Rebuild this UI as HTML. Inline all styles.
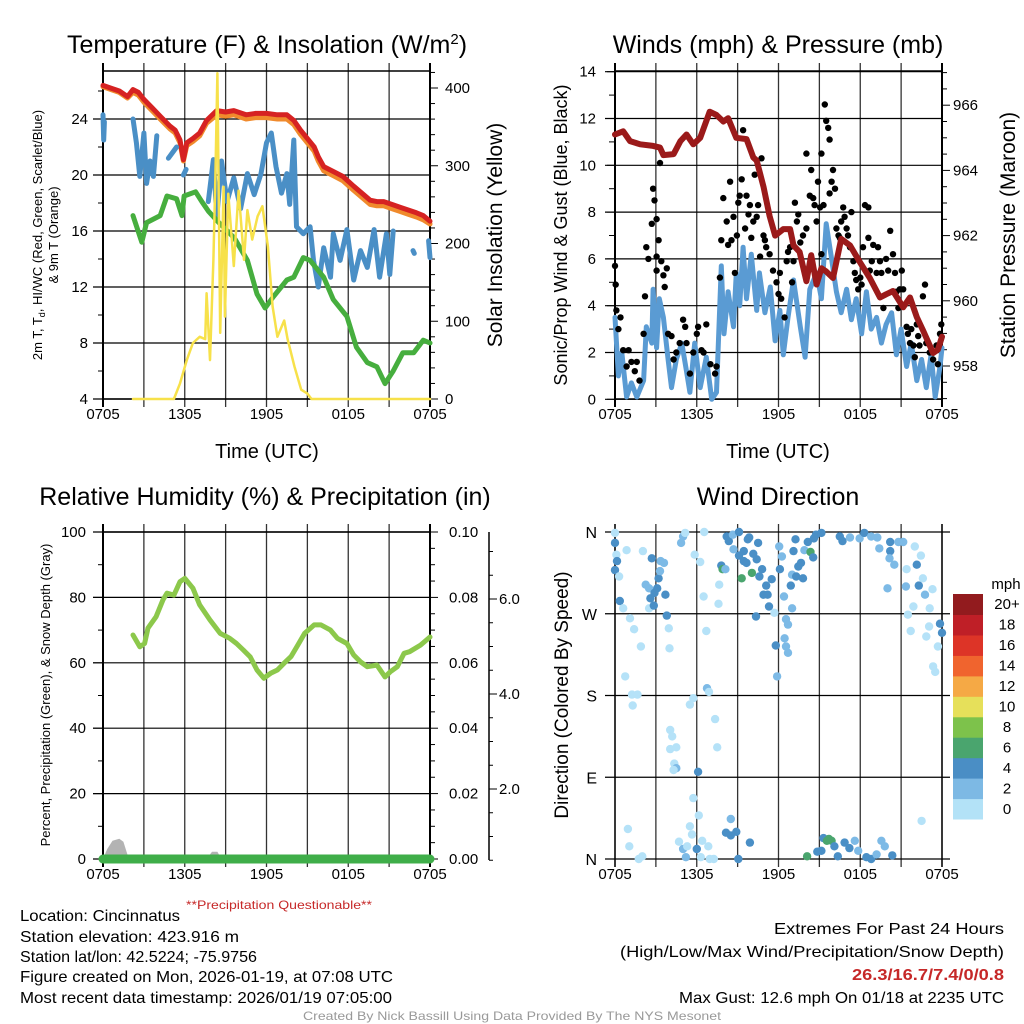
<!DOCTYPE html>
<html><head><meta charset="utf-8"><style>
html,body{margin:0;padding:0;background:#fff}
svg{display:block;font-family:"Liberation Sans",sans-serif}
</style></head><body>
<svg id="c" width="1024" height="1024" viewBox="0 0 1024 1024">
<rect width="1024" height="1024" fill="#fff"/>
<text x="267" y="53" font-size="25" text-anchor="middle">Temperature (F) &amp; Insolation (W/m<tspan dy="-9" font-size="15">2</tspan><tspan dy="9">)</tspan></text>
<text x="778" y="53" font-size="25" text-anchor="middle">Winds (mph) &amp; Pressure (mb)</text>
<text x="265" y="505" font-size="25" text-anchor="middle">Relative Humidity (%) &amp; Precipitation (in)</text>
<text x="778" y="505" font-size="25" text-anchor="middle">Wind Direction</text>

<text transform="translate(42,235) rotate(-90)" font-size="13" text-anchor="middle">2m T, T<tspan dy="3" font-size="9">d</tspan><tspan dy="-3">, HI/WC (Red, Green, Scarlet/Blue)</tspan></text>
<text transform="translate(58,235) rotate(-90)" font-size="13" text-anchor="middle">&amp; 9m T (Orange)</text>
<text transform="translate(502,235) rotate(-90)" font-size="21" text-anchor="middle">Solar Insolation (Yellow)</text>
<text transform="translate(567,235) rotate(-90)" font-size="18" text-anchor="middle">Sonic/Prop Wind &amp; Gust (Blue, Black)</text>
<text transform="translate(1015,235) rotate(-90)" font-size="21" text-anchor="middle">Station Pressure (Maroon)</text>
<text transform="translate(50,695) rotate(-90)" font-size="13" text-anchor="middle">Percent, Precipitation (Green), &amp; Snow Depth (Gray)</text>
<text transform="translate(568,695) rotate(-90)" font-size="19" text-anchor="middle">Direction (Colored By Speed)</text>
<text x="267" y="458" font-size="20" text-anchor="middle">Time (UTC)</text>
<text x="778" y="458" font-size="20" text-anchor="middle">Time (UTC)</text>

<text x="279" y="909" font-size="12" fill="#c62828" text-anchor="middle" textLength="186" lengthAdjust="spacingAndGlyphs">**Precipitation Questionable**</text>
<g font-size="16">
<text x="20" y="921" textLength="160" lengthAdjust="spacingAndGlyphs">Location: Cincinnatus</text>
<text x="20" y="942" textLength="219" lengthAdjust="spacingAndGlyphs">Station elevation: 423.916 m</text>
<text x="20" y="962" textLength="237" lengthAdjust="spacingAndGlyphs">Station lat/lon: 42.5224; -75.9756</text>
<text x="20" y="982" textLength="373" lengthAdjust="spacingAndGlyphs">Figure created on Mon, 2026-01-19, at 07:08 UTC</text>
<text x="20" y="1003" textLength="372" lengthAdjust="spacingAndGlyphs">Most recent data timestamp: 2026/01/19 07:05:00</text>
</g>
<g font-size="16" text-anchor="end">
<text x="1004" y="934" textLength="230" lengthAdjust="spacingAndGlyphs">Extremes For Past 24 Hours</text>
<text x="1004" y="957" textLength="384" lengthAdjust="spacingAndGlyphs">(High/Low/Max Wind/Precipitation/Snow Depth)</text>
<text x="1004" y="980" font-weight="bold" fill="#c62828" textLength="152" lengthAdjust="spacingAndGlyphs">26.3/16.7/7.4/0/0.8</text>
<text x="1004" y="1003" textLength="325" lengthAdjust="spacingAndGlyphs">Max Gust: 12.6 mph On 01/18 at 2235 UTC</text>
</g>
<text x="512" y="1020" font-size="12" fill="#999" text-anchor="middle" textLength="418" lengthAdjust="spacingAndGlyphs">Created By Nick Bassill Using Data Provided By The NYS Mesonet</text>
<g id="g"></g>
</svg>
<script>
// ---- data ----
const timeTickLabels = ["0705","1305","1905","0105","0705"];
const tempTicks = [4,8,12,16,20,24];
const insolTicks = [0,100,200,300,400];
const windTicks = [0,2,4,6,8,10,12,14];
const pressTicks = [958,960,962,964,966];
const rhTicks = [0,20,40,60,80,100];
const precipTickLabels = ["0.00","0.02","0.04","0.06","0.08","0.10"];
const snowTicks = [2,4,6];
const dirLabels = ["N","E","S","W","N"];
const legendLabels = ["0","2","4","6","8","10","12","14","16","18","20+"];
const legendColors = ["#b3e2f7","#7db9e4","#4a8ec5","#4aa56e","#7dc24b","#e6e05a","#f5a945","#f0642e","#dd3427","#bf1f27","#921b1e"];

const tempRed = [[0,26.4],[0.6,26.2],[1.2,26.0],[1.8,25.6],[2.2,26.1],[2.6,25.9],[3,25.4],[3.6,24.8],[4.2,24.2],[4.9,23.5],[5.3,23.2],[5.65,22.5],[5.9,21.1],[6.15,22.3],[6.6,22.6],[7.1,23.0],[7.6,23.9],[8.35,24.6],[9,24.5],[9.6,24.6],[10.5,24.3],[11.2,24.4],[12,24.4],[12.8,24.3],[13.5,24.3],[14,23.9],[14.5,23.2],[15,22.6],[15.5,22.0],[15.8,21.3],[16.2,20.6],[16.9,20.25],[17.6,19.9],[18.4,19.2],[19,18.7],[19.6,18.2],[20.1,18.1],[20.6,18.1],[21.2,17.9],[21.8,17.7],[22.4,17.5],[23,17.3],[23.5,17.1],[24,16.7]];
const tempOrange = [[0,26.3],[0.6,26.1],[1.2,25.9],[1.8,25.5],[2.2,25.9],[2.6,25.7],[3,25.2],[3.6,24.6],[4.2,24.0],[4.9,23.3],[5.3,23.0],[5.65,22.3],[5.9,21.0],[6.15,22.1],[6.6,22.4],[7.1,22.8],[7.6,23.7],[8.35,24.3],[9,24.2],[9.6,24.3],[10.5,24.0],[11.2,24.1],[12,24.1],[12.8,24.0],[13.5,24.0],[14,23.6],[14.5,22.9],[15,22.3],[15.5,21.7],[15.8,21.0],[16.2,20.3],[16.9,19.95],[17.6,19.6],[18.4,18.9],[19,18.4],[19.6,17.9],[20.1,17.8],[20.6,17.8],[21.2,17.6],[21.8,17.4],[22.4,17.2],[23,17.0],[23.5,16.8],[24,16.5]];
const tempBlue = [[0,24.3],[0.05,22.5],[0.1,23.8],null,[2.2,24.0],[2.45,22.3],[2.7,19.9],[3.0,23.0],[3.2,19.4],[3.45,21.0],[3.7,19.9],[3.95,22.8],null,[4.8,21.2],[5.1,21.6],[5.4,22.0],null,[5.9,20.0],[6.1,20.4],null,[7.73,18.1],[8.1,21.1],[8.35,17.0],[8.7,21.0],[9.1,18.1],[9.6,19.8],[10.1,17.6],[10.6,20.1],[11.1,18.6],[11.6,20.1],[12.0,22.3],[12.35,23.0],[12.7,20.6],[13.1,18.7],[13.5,20.1],[13.7,17.9],[14.0,22.5],[14.2,16.3],[14.7,15.8],[15.2,16.3],[15.45,13.9],[15.8,12.0],[16.2,14.8],[16.7,12.7],[16.9,15.8],[17.4,13.9],[17.9,16.1],[18.4,12.5],[18.9,14.6],[19.4,13.4],[19.9,16.1],[20.3,12.7],[20.8,15.8],[21.05,12.9],[21.3,16.0],null,[22.75,14.6],[22.85,14.4],null,[23.9,15.3],[24,14.1]];
const tempGreen = [[2.2,17.1],[2.85,15.2],[3.2,16.6],[4.2,17.1],[4.7,18.5],[5.4,18.3],[5.8,17.1],[5.95,18.5],[6.8,18.8],[7.25,18.1],[7.75,17.4],[8.5,16.6],[9.25,15.9],[9.7,15.4],[10.6,13.9],[11.3,11.5],[11.9,10.5],[12.5,11.3],[13.5,12.5],[14.0,12.7],[14.7,14.1],[15.2,13.9],[16.2,12.7],[16.9,11.1],[17.9,9.9],[18.6,7.7],[19.4,6.6],[20.1,6.3],[20.7,5.1],[21.3,6.0],[22.0,7.3],[22.8,7.3],[23.5,8.2],[24,8.0]];
const insolation = [[2.2,0],[5.2,0],[5.65,20],[6.15,50],[6.6,72],[7.1,80],[7.5,77],[7.6,136],[7.85,50],[8.1,179],[8.25,286],[8.4,419],[8.6,85],[8.85,273],[8.95,106],[9.2,264],[9.6,171],[9.95,268],[10.35,179],[10.6,243],[10.95,205],[11.35,235],[11.7,248],[12.1,196],[12.45,119],[12.8,80],[13.3,101],[13.55,77],[14.05,42],[14.55,12],[15.0,7],[15.3,0],[24,0]];

const pressure = [[0,965.1],[0.6,965.2],[1.1,964.9],[1.85,964.8],[2.8,964.75],[3.3,964.7],[3.55,964.47],[4.3,964.5],[4.8,964.9],[5.25,965.1],[5.75,964.8],[6.25,965.0],[6.95,965.8],[7.45,965.7],[7.95,965.5],[8.3,965.6],[8.9,965.0],[9.65,964.96],[10.15,964.4],[10.4,964.3],[10.9,963.5],[11.35,962.6],[11.75,962.0],[12.35,962.2],[12.85,962.2],[13.1,961.7],[13.55,961.5],[14.05,960.6],[14.4,961.4],[14.8,960.5],[15.15,961.0],[15.5,960.9],[16.0,960.7],[16.6,961.9],[17.25,961.7],[17.95,961.2],[18.7,960.7],[19.45,960.1],[19.9,960.2],[20.4,960.3],[21.15,959.8],[21.65,960.1],[22.15,959.5],[22.6,959.1],[23.35,958.4],[23.7,958.5],[24,958.9]];
const windSpeed = [[0,3.5],[0.25,1.0],[0.5,2.0],[0.85,0.1],[1.2,0.7],[1.6,0.1],[2.1,0.8],[2.3,3.1],[2.7,2.4],[2.8,4.7],[3.05,2.2],[3.25,4.3],[3.55,3.5],[3.9,1.7],[4.15,0.5],[4.5,1.7],[4.9,2.4],[5.25,1.2],[5.5,0.3],[5.85,2.4],[6.25,0.5],[6.7,1.8],[7.1,0.0],[7.45,0.3],[7.8,5.7],[8.0,2.8],[8.3,4.6],[8.7,3.1],[8.9,5.4],[9.15,4.0],[9.4,6.5],[9.65,4.3],[10.0,6.2],[10.4,3.8],[10.6,5.4],[11.0,3.7],[11.4,4.8],[11.75,2.5],[12.1,3.8],[12.35,1.9],[12.7,3.5],[13.1,5.1],[13.6,3.1],[13.95,1.8],[14.3,4.7],[14.8,5.4],[15.15,4.3],[15.5,7.5],[15.9,6.0],[16.25,4.6],[16.6,3.7],[17.0,4.7],[17.35,3.4],[17.7,4.3],[18.1,2.8],[18.45,4.6],[18.8,3.0],[19.2,3.5],[19.55,2.4],[19.9,3.2],[20.3,3.7],[20.65,1.9],[21.0,3.0],[21.4,1.4],[21.75,2.4],[22.15,0.8],[22.5,1.7],[22.85,0.5],[23.2,1.9],[23.5,0.1],[23.85,1.4],[24,2.2]];
const windGust = [[0,5.7],[0.05,4.9],[0.1,3.8],[0.4,3.5],[0.25,3],[0.6,2.1],[1,2.1],[0.85,1.4],[1.2,1.6],[1.45,1.2],[1.6,1.6],[1.8,0.8],[2.1,2.8],[2.2,4.4],[2.3,6.5],[2.45,6],[2.7,7.5],[2.8,9],[2.9,8.5],[3.05,7.7],[3.2,6.8],[3.05,6.1],[3.05,5.5],[3.3,10.1],[3.4,5.9],[3.55,5.3],[3.65,4.8],[3.8,5.6],[3.9,2.8],[4.15,2.7],[4.3,1.7],[4.5,2],[4.75,2.4],[5,3.4],[5.15,3.1],[5.25,2.4],[5.5,1.1],[5.75,2],[6,2.8],[6.1,3.1],[6.35,2.1],[6.5,2],[6.7,3.2],[7,1.5],[7.35,1.1],[7.45,1.4],[7.7,5.2],[7.8,6.8],[7.95,8.6],[8.2,7.6],[8.3,6.6],[8.55,6.8],[8.45,9.3],[8.7,7.8],[8.8,5.4],[8.95,7],[9.05,8.4],[9.15,8.7],[9.3,9.4],[9.4,11.5],[9.55,7.3],[9.65,8.7],[9.8,7.9],[9.9,8.3],[10,6.9],[10.15,7.6],[10.25,9.6],[10.4,7.8],[10.5,8.3],[10.65,6.1],[10.75,10.3],[10.9,7],[11,6.8],[11.1,6.5],[11.35,6.2],[11.6,5.5],[11.85,5],[12,4.5],[12.1,5.4],[12.2,4.3],[12.45,3.5],[12.6,5.9],[12.7,6.3],[12.85,6.5],[13,5],[13.1,5.9],[13.2,8.4],[13.35,7.6],[13.45,7.9],[13.6,6.7],[13.8,7],[14.05,7.3],[14.05,10.5],[14.3,8.7],[14.4,9.8],[14.55,8.6],[14.65,8.3],[14.8,7.6],[14.9,9.3],[15.05,8.2],[15.15,10.5],[15.15,6.2],[15.3,8.3],[15.4,12.6],[15.5,11.9],[15.65,11.6],[15.75,11.1],[15.75,8.8],[15.9,9.3],[16,9.8],[16.15,9],[16.25,7.3],[16.4,7],[16.5,6.9],[16.6,7.6],[16.75,8.2],[16.85,7.8],[17,7.3],[17.1,7],[17.25,6.5],[17.35,8],[17.5,5.9],[17.6,5.4],[17.7,5.1],[17.85,4.7],[18,5.2],[18.1,4.9],[18.2,6.5],[18.35,8.3],[18.6,8.2],[18.6,6.9],[18.7,5.5],[18.85,5.9],[18.95,6.6],[19.2,5.4],[19.3,6.5],[19.45,5.9],[19.55,5.4],[19.7,3.9],[19.9,6],[20.05,5.5],[20.2,7.2],[20.4,6.2],[20.55,5.4],[20.65,4.6],[20.8,3.9],[20.9,4.7],[21.05,5.5],[21.15,4.7],[21.4,3.1],[21.5,2.8],[21.65,2.4],[21.75,3],[21.9,2.3],[22,1.8],[22.15,3.2],[22.25,2.7],[22.35,2.3],[22.6,4.4],[22.75,4.9],[22.85,2.4],[23.1,2],[23.35,1.7],[23.6,2.3],[23.7,1.5],[23.85,2.8],[23.95,3.2]];

const relHumidity = [[2.2,68.5],[2.7,64.9],[3.05,65.9],[3.3,70.6],[3.9,74.1],[4.4,79.2],[4.7,81.3],[5.2,80.7],[5.65,84.8],[6.0,85.8],[6.6,82.8],[7.1,77.7],[7.85,73.1],[8.6,69.0],[9.3,67.5],[9.8,65.9],[10.3,63.9],[10.8,61.8],[11.3,57.8],[11.8,55.3],[12.3,56.8],[12.8,57.8],[13.3,59.9],[13.8,61.9],[14.3,65.4],[14.8,69.0],[15.5,71.6],[16.0,71.6],[16.7,70.0],[17.2,67.5],[17.9,65.9],[18.4,62.4],[18.9,60.3],[19.4,58.8],[20.1,59.3],[20.7,55.7],[21.1,57.3],[21.6,58.8],[22.1,62.9],[22.5,63.4],[23.3,65.4],[24,67.9]];
const snowDepthA = [[0,0],[0.3,3],[0.7,5.6],[1.2,6.2],[1.5,5.3],[1.75,2],[1.9,0]];
const snowDepthB = [[7.6,0],[8.0,2.2],[8.4,2.2],[8.7,0]];
const precip = [[0,0],[24,0]];

// wind direction: [hour, degrees, speedClass]
const windDir = [[0,359,0],[0,348,2],[0.1,335,0],[0.15,328,2],[0,318,2],[0.3,311,0],[0.35,284,2],[0.6,276,0],[0.85,340,0],[1.1,265,0],[1.4,253,0],[1.9,234,0],[0.75,201,0],[1.25,181,0],[1.65,181,0],[1.3,169,0],[2.05,339,0],[2.25,302,1],[2.5,298,1],[2.7,331,2],[2.6,287,2],[2.9,293,2],[2.5,276,0],[3.1,298,2],[3.2,309,2],[2.85,279,2],[3.35,328,1],[3.6,326,1],[3.3,317,1],[3.7,291,2],[3.8,268,2],[3.95,254,0],[4,232,0],[4.05,142,0],[4.2,135,0],[4.05,121,0],[4.5,123,0],[4.35,105,0],[4.5,100,1],[4.3,98,0],[4.85,348,1],[5,355,1],[5.15,359,0],[5.85,335,0],[6.25,327,0],[6.55,360,0],[6.5,289,0],[6.7,251,0],[5.5,170,0],[5.75,177,0],[6.75,188,1],[6.9,184,0],[6.1,96,2],[5.75,67,0],[6.15,48,0],[5.5,36,0],[5.65,27,0],[4.7,19,0],[5,11,1],[5.3,14,0],[5.2,2,1],[6,11,2],[6.4,20,0],[6.85,14,0],[6.3,2,0],[6.95,0,0],[7.25,0,0],[7.35,154,0],[7.5,123,0],[0.95,33,0],[1.05,14,0],[1.75,0,0],[2,3,0],[7.65,302,0],[7.6,281,0],[7.8,323,2],[7.9,319,3],[8.1,319,1],[8.2,355,2],[8.35,350,2],[8.65,357,1],[8.7,341,1],[9.1,360,2],[9.1,334,2],[9.3,309,3],[9.45,339,2],[9.45,328,2],[9.65,326,2],[9.75,352,2],[9.85,354,2],[10.05,315,3],[10.15,336,2],[10.4,330,2],[10.5,348,2],[10.6,311,2],[10.8,319,2],[11.1,301,2],[10.9,291,2],[11.2,291,2],[11.3,278,2],[11.5,308,2],[10.35,267,2],[11.7,271,0],[11.8,235,2],[11.9,201,1],[8.5,44,1],[8.15,29,2],[8.5,26,2],[8.9,30,2],[9.05,0,2],[9.9,18,2],[12.05,344,1],[12.25,333,1],[12.1,319,2],[12.4,289,1],[12.55,264,1],[12.7,258,1],[12.45,243,1],[12.55,234,1],[12.7,227,1],[13,276,1],[12.9,301,2],[13,313,1],[13.1,339,2],[13.25,352,2],[13.3,311,2],[13.45,322,2],[13.65,326,2],[13.8,309,2],[13.9,340,1],[14.15,349,2],[14.35,338,3],[14.55,332,2],[14.1,3,3],[14.85,8,2],[15.15,9,2],[14.6,353,2],[14.75,357,2],[15.15,359,2],[15.3,23,2],[15.55,20,3],[15.9,20,3],[15.7,22,3],[16.1,14,2],[16.35,3,2],[16.85,18,2],[17.2,12,2],[17.6,20,1],[17.85,9,1],[18.45,2,2],[18.8,0,2],[19.2,5,1],[19.55,20,1],[19.8,14,1],[20.35,4,2],[16.5,355,2],[16.7,350,2],[17.25,354,1],[17.95,353,1],[18.3,359,2],[18.8,355,1],[19.25,354,1],[19.4,342,1],[20.2,349,2],[20.2,339,2],[20.15,331,1],[20.5,324,1],[20.8,349,1],[21.15,349,1],[20,298,1],[21.35,300,1],[21.5,269,0],[21.7,251,0],[21.4,319,0],[21.9,278,0],[22,344,0],[22.3,301,2],[22.15,324,2],[22.45,334,0],[22.75,291,1],[22.85,245,0],[23.05,256,0],[23.3,297,0],[23.1,276,0],[23.35,212,0],[23.5,206,0],[23.7,234,0],[23.85,259,2],[24,249,2],[22.5,42,0],[22.6,309,0]];

// ---- scales ----
const NS = "http://www.w3.org/2000/svg";
const root = document.getElementById("g");
const xL = h => 103 + h * 13.625;
const xR = h => 615 + h * 13.625;
const yTemp = v => 399 - (v - 4) * 14;
const yIns = v => 399 - v * 0.7775;
const yWind = v => 399.3 - v * 23.4;
const yPres = p => 366 - (p - 958) * 32.6;
const yRH = v => 859 - v * 3.27;
const yPrecip = v => 859 - v * 3270;
const ySnow = v => 884 - v * 47.5;
const yDir = d => 859 - d * (327 / 360);

function mk(tag, attrs, parent) {
  const e = document.createElementNS(NS, tag);
  for (const k in attrs) e.setAttribute(k, attrs[k]);
  (parent || root).appendChild(e);
  return e;
}
function line(x1, y1, x2, y2, stroke, w, name) {
  const e = mk("line", {x1, y1, x2, y2, stroke, "stroke-width": w});
  
  
  return e;
}
function txt(x, y, s, size, anchor, name) {
  const e = mk("text", {x, y, "font-size": size, "text-anchor": anchor});
  e.textContent = s;
  
  
  return e;
}
function pathFrom(pts, fx, fy) {
  let d = "", pen = false;
  for (const p of pts) {
    if (!p) { pen = false; continue; }
    d += (pen ? "L" : "M") + fx(p[0]).toFixed(1) + "," + fy(p[1]).toFixed(1);
    pen = true;
  }
  return d;
}
function series(pts, fx, fy, color, w, name) {
  const e = mk("path", {d: pathFrom(pts, fx, fy), fill: "none", stroke: color, "stroke-width": w, "stroke-linejoin": "round", "stroke-linecap": "round"});
  
  
  return e;
}

// ---- frames / grids ----
function timeGrid(fx, top, bot, pfx) {
  for (let h = 0; h <= 24; h += 3) {
    const edge = (h === 0 || h === 24);
    line(fx(h), top - 8, fx(h), bot + 8, edge ? "#000" : "#333", edge ? 2 : 1.3, pfx + "-vgrid");
  }
  timeTickLabels.forEach((s, i) => txt(fx(i * 6), bot + 20, s, 15, "middle", pfx + "-x-tick-label"));
  line(fx(0), top, fx(24), top, "#000", 1.5, pfx + "-top-frame");
  line(fx(0), bot, fx(24), bot, "#000", 1.5, pfx + "-bottom-frame");
}

// Panel 1: temperature
timeGrid(xL, 71, 399, "temp");
for (let v = 4; v <= 27; v += 2) line(95 + (v % 4 ? 3 : 0), yTemp(v), 103, yTemp(v), "#000", 1, "temp-y-tick");
tempTicks.forEach(v => { line(93, yTemp(v), 430, yTemp(v), "#000", 1.2, "temp-hgrid"); txt(88, yTemp(v) + 5, String(v), 15, "end", "temp-y-tick-label"); });
for (let v = 0; v <= 420; v += 20) line(430, yIns(v), v % 100 ? 435 : 438, yIns(v), "#000", 1, "insolation-y-tick");
insolTicks.forEach(v => txt(445, yIns(v) + 5, String(v), 15, "start", "insolation-y-tick-label"));
series(tempOrange, xL, yTemp, "#f08a2c", 5, "temp-9m-orange-line");
series(tempRed, xL, yTemp, "#d62222", 5, "temp-2m-red-line");
series(tempBlue, xL, yTemp, "#4a8fc6", 5, "heat-index-windchill-blue-line");
series(tempGreen, xL, yTemp, "#46ae3e", 5, "dewpoint-green-line");
series(insolation, xL, yIns, "#f7e14a", 2.5, "solar-insolation-yellow-line");

// Panel 2: winds
timeGrid(xR, 71, 399, "wind");
for (let v = 0; v <= 14; v += 1) line(v % 2 ? 609 : 607, yWind(v), 615, yWind(v), "#000", 1, "wind-y-tick");
windTicks.forEach(v => { line(605, yWind(v), 942, yWind(v), "#000", 1.2, "wind-hgrid"); txt(596, yWind(v) + 5, String(v), 15, "end", "wind-y-tick-label"); });
for (let p = 957; p <= 967; p += 0.5) line(942, yPres(p), p % 2 === 0 ? 950 : 947, yPres(p), "#000", 1, "pressure-y-tick");
pressTicks.forEach(p => txt(953, yPres(p) + 5, String(p), 15, "start", "pressure-y-tick-label"));
series(windSpeed, xR, yWind, "#5a9bd3", 5, "wind-speed-blue-line");
windGust.forEach(p => {
  const c = mk("circle", {cx: xR(p[0]).toFixed(1), cy: yWind(p[1]).toFixed(1), r: 3.2, fill: "#000"});
  
  
});
series(pressure, xR, yPres, "#9b1a1a", 6, "station-pressure-maroon-line");

// Panel 3: humidity
timeGrid(xL, 532, 859, "rh");
for (let v = 0; v <= 100; v += 10) line(v % 20 ? 98 : 93, yRH(v), 103, yRH(v), "#000", 1, "rh-y-tick");
rhTicks.forEach(v => { line(93, yRH(v), 430, yRH(v), "#000", 1.2, "rh-hgrid"); txt(86, yRH(v) + 5, String(v), 15, "end", "rh-y-tick-label"); });
for (let i = 0; i <= 20; i++) line(430, yRH(i * 5), i % 4 ? 435 : 438, yRH(i * 5), "#000", 1, "precip-y-tick");
precipTickLabels.forEach((s, i) => txt(449, yRH(i * 20) + 5, s, 15, "start", "precip-y-tick-label"));
line(489, 532, 489, 860, "#000", 1.5, "snow-depth-axis-line");
for (let v = 0.5; v <= 7; v += 0.5) { if (ySnow(v) >= 532) line(489, ySnow(v), v % 2 === 0 ? 497 : 493, ySnow(v), "#000", 1, "snow-depth-y-tick"); }
snowTicks.forEach(v => txt(499, ySnow(v) + 5, v.toFixed(1), 15, "start", "snow-depth-y-tick-label"));
[snowDepthA, snowDepthB].forEach(s => {
  const e = mk("path", {d: pathFrom(s, xL, yRH) + "Z", fill: "#b3b3b3"});
  
  
});
series(precip, xL, yPrecip, "#3fae49", 9, "precipitation-green-line");
series(relHumidity, xL, yRH, "#8cc84b", 5, "relative-humidity-line");

// Panel 4: wind direction
for (let h = 0; h <= 24; h += 3) {
  const edge = (h === 0 || h === 24);
  line(xR(h), 524, xR(h), 867, edge ? "#222" : "#333", edge ? 1.8 : 1.3, "dir-vgrid");
}
timeTickLabels.forEach((s, i) => txt(xR(i * 6), 879, s, 15, "middle", "dir-x-tick-label"));
dirLabels.forEach((s, i) => { line(605, yDir(i * 90), 950, yDir(i * 90), "#000", 1.2, "dir-hgrid"); txt(597, yDir(i * 90) + 6, s, 16, "end", "dir-y-tick-label"); });
const dirColors = ["#b5e2f8", "#7dbae6", "#4a8fc6", "#4aa56e"];
windDir.forEach(p => {
  const c = mk("circle", {cx: xR(p[0]).toFixed(1), cy: yDir(p[1]).toFixed(1), r: 4.2, fill: dirColors[p[2]]});
  
  
});
// legend
txt(1006, 589, "mph", 15, "middle", "legend-title");
const legTop = 594, legH = 225 / legendColors.length;
legendColors.forEach((col, i) => {
  const y = legTop + (legendColors.length - 1 - i) * legH;
  const r = mk("rect", {x: 953, y: y.toFixed(1), width: 30, height: (legH + 0.5).toFixed(1), fill: col});
  
  
  txt(1007, y + legH / 2 + 5, legendLabels[i], 15, "middle", "legend-label");
});
</script>
</body></html>
